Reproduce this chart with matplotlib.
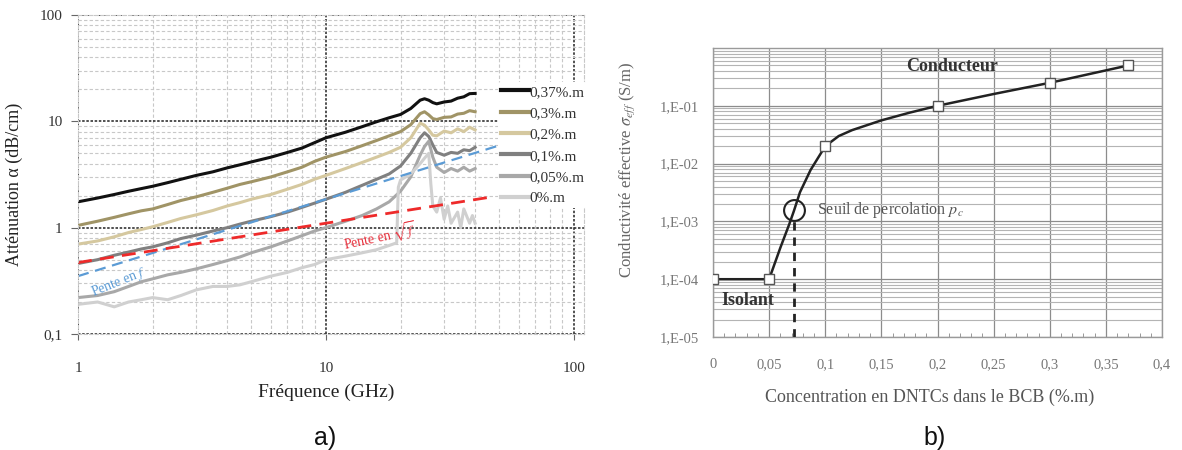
import matplotlib
matplotlib.use("Agg")
import matplotlib.pyplot as plt
import numpy as np
from matplotlib.ticker import FixedLocator, NullFormatter

plt.rcParams['font.family'] = ['Liberation Serif', 'DejaVu Serif']
plt.rcParams['mathtext.fontset'] = 'stix'

# ---- panel a) attenuation vs frequency ----
freq = [1, 1.2, 1.4, 1.6, 1.8, 2, 2.3, 2.6, 3, 3.5, 4, 4.5, 5, 6, 7, 8, 9, 10,
        12, 14, 16, 18, 20, 22, 24, 25, 26, 27, 28, 30, 32, 34, 36, 38, 40]
att_037 = [1.75, 1.9, 2.05, 2.2, 2.33, 2.45, 2.65, 2.85, 3.1, 3.35, 3.65, 3.9, 4.15, 4.6, 5.1,
           5.6, 6.3, 7.0, 7.9, 8.9, 9.9, 10.8, 11.6, 13.2, 15.8, 16.3, 15.8, 15.0, 14.6, 15.2,
           15.5, 16.5, 17.0, 18.2, 18.3]
att_03 = [1.05, 1.15, 1.25, 1.35, 1.44, 1.5, 1.65, 1.8, 1.95, 2.15, 2.35, 2.55, 2.7, 3.0, 3.35,
          3.7, 4.2, 4.6, 5.2, 5.9, 6.6, 7.3, 8.0, 9.3, 11.8, 12.3, 11.5, 10.6, 10.4, 10.9,
          11.0, 11.7, 11.9, 12.6, 12.3]
att_02 = [0.7, 0.75, 0.82, 0.9, 0.96, 1.02, 1.12, 1.22, 1.32, 1.45, 1.6, 1.72, 1.85, 2.05, 2.3,
          2.55, 2.85, 3.1, 3.6, 4.1, 4.6, 5.1, 5.7, 7.0, 9.6, 9.2, 8.3, 7.4, 7.3, 8.1,
          7.8, 8.5, 8.0, 8.8, 8.3]
att_01 = [0.46, 0.5, 0.55, 0.59, 0.63, 0.66, 0.72, 0.79, 0.85, 0.93, 1.0, 1.08, 1.15, 1.27, 1.4,
          1.55, 1.7, 1.85, 2.15, 2.5, 2.85, 3.2, 3.8, 5.0, 7.0, 7.8, 7.2, 6.0, 5.1, 4.8,
          5.1, 5.0, 5.4, 5.3, 5.7]
att_005 = [0.22, 0.23, 0.25, 0.28, 0.31, 0.33, 0.36, 0.38, 0.41, 0.45, 0.49, 0.53, 0.58, 0.66, 0.75,
           0.84, 0.93, 1.0, 1.15, 1.3, 1.5, 1.75, 2.2, 3.0, 4.8, 5.8, 6.5, 4.6, 3.7, 3.3,
           3.6, 3.4, 3.7, 3.4, 3.6]
freq_0 = [1, 1.2, 1.4, 1.6, 1.8, 2, 2.3, 2.6, 3, 3.5, 4, 4.5, 5, 6, 7, 8, 9, 10, 12, 14, 16, 18,
          19.3, 19.6, 20, 22, 24, 25, 26, 26.5, 27, 28, 29, 30, 31, 32, 34, 35, 36, 38, 39, 40]
att_0 = [0.19, 0.2, 0.18, 0.2, 0.21, 0.22, 0.21, 0.23, 0.26, 0.28, 0.28, 0.29, 0.31, 0.35, 0.38,
         0.42, 0.45, 0.5, 0.54, 0.58, 0.62, 0.68, 0.72, 2.4, 2.8, 3.2, 4.0, 4.5, 5.0, 2.6,
         1.6, 1.4, 1.9, 1.2, 1.6, 1.1, 1.4, 1.0, 1.5, 1.1, 1.3, 1.1]
labels_a = ['0,37%.m', '0,3%.m', '0,2%.m', '0,1%.m', '0,05%.m', '0%.m']
colors_a = ['#111111', '#a09466', '#d5c89f', '#808080', '#a8a8a8', '#d0d0d0']

slope_f_x = [1, 52]
slope_f_y = [0.35, 6.1]
slope_sqrt_x = [1, 47]
slope_sqrt_y = [0.47, 1.95]

# ---- panel b) conductivity vs concentration ----
conc = [0, 0.05, 0.1, 0.2, 0.3, 0.37]
sigma = [1e-4, 1e-4, 2e-2, 1e-1, 2.5e-1, 5e-1]
conc_curve = [0, 0.05, 0.06, 0.068, 0.072, 0.0775, 0.087, 0.1, 0.112, 0.124, 0.15, 0.175,
              0.2, 0.25, 0.3, 0.37]
sigma_curve = [1e-4, 1e-4, 3.5e-4, 9e-4, 1.5e-3, 3.2e-3, 7.8e-3, 2e-2, 3e-2, 3.8e-2, 5.6e-2,
               7.6e-2, 1e-1, 1.6e-1, 2.5e-1, 5e-1]
p_c = 0.072
sigma_pc = 1.6e-3

fig = plt.figure(figsize=(11.82, 4.5), dpi=100)

# ================= a) =================
ax = fig.add_axes([0.066, 0.2578, 0.4281, 0.7089])
ax.set_xscale('log')
ax.set_yscale('log')
ax.set_xlim(1, 110)
ax.set_ylim(0.1, 100)

ax.grid(True, which='minor', color='#c8c8c8', linestyle=(0, (3, 2)), linewidth=0.8)
ax.grid(True, which='major', color='#333333', linestyle=(0, (1.5, 1)), linewidth=1.2)
for s in ax.spines.values():
    s.set_color('#c8c8c8')
    s.set_linestyle((0, (3, 2)))
    s.set_linewidth(0.8)
ax.set_axisbelow(True)

ax.set_xticks([1, 10, 100])
ax.set_xticklabels(['1', '10', '100'])
ax.set_yticks([0.1, 1, 10, 100])
ax.set_yticklabels(['0,1', '1', '10', '100'])
ax.xaxis.set_minor_formatter(NullFormatter())
ax.yaxis.set_minor_formatter(NullFormatter())
ax.tick_params(which='minor', length=0)
ax.tick_params(axis='y', which='major', length=5, color='#666666', labelsize=11, pad=6,
               labelcolor='#333333')
ax.tick_params(axis='x', which='major', length=4, color='#666666', labelsize=11, pad=16,
               labelcolor='#333333')

series = [att_037, att_03, att_02, att_01, att_005]
for vals, lab, col in zip(series, labels_a, colors_a):
    ax.plot(freq, vals, color=col, linewidth=2.2, label=lab)
ax.plot(freq_0, att_0, color=colors_a[5], linewidth=2.2, label=labels_a[5])

ax.plot(slope_f_x, slope_f_y, color='#5b9bd5', linestyle=(0, (5, 3)), linewidth=1.6)
ax.plot(slope_sqrt_x, slope_sqrt_y, color='#ee2a2a', linestyle=(0, (5, 3)), linewidth=2.0)
ax.text(1.46, 0.31, 'Pente en $f$', color='#5b9bd5', fontsize=10, rotation=22,
        ha='center', va='center')
ax.text(16.5, 0.8, r'Pente en $\sqrt{f}$', color='#e8303c', fontsize=10, rotation=12,
        ha='center', va='center')

leg = ax.legend(loc='upper left', bbox_to_anchor=(0.83, 0.79), frameon=True, fontsize=11,
                handlelength=1.8, handletextpad=0.05, labelspacing=0.5, borderpad=0.2,
                borderaxespad=0)
leg.get_frame().set_facecolor('white')
leg.get_frame().set_edgecolor('none')
leg.get_frame().set_alpha(1)
for line in leg.get_lines():
    line.set_linewidth(3)
for t in leg.get_texts():
    t.set_color('#333333')

ax.set_xlabel('Fréquence (GHz)', fontsize=14, color='#222222')
ax.xaxis.set_label_coords(0.49, -0.155)
ax.set_ylabel('Atténuation α (dB/cm)', fontsize=13, color='#222222')
ax.yaxis.set_label_coords(-0.108, 0.47)

# ================= b) =================
bx = fig.add_axes([0.6032, 0.2511, 0.3799, 0.6422])
bx.set_yscale('log')
bx.set_xlim(0, 0.4)
bx.set_ylim(1e-5, 1)

bx.set_xticks([0, 0.05, 0.1, 0.15, 0.2, 0.25, 0.3, 0.35, 0.4])
bx.set_xticklabels(['0', '0,05', '0,1', '0,15', '0,2', '0,25', '0,3', '0,35', '0,4'])
bx.xaxis.set_minor_locator(FixedLocator([i * 0.01 for i in range(41)]))
bx.set_yticks([1e-5, 1e-4, 1e-3, 1e-2, 1e-1])
bx.set_yticklabels(['1,E-05', '1,E-04', '1,E-03', '1,E-02', '1,E-01'])
bx.yaxis.set_minor_formatter(NullFormatter())
bx.grid(True, axis='x', which='major', color='#8c8c8c', linewidth=0.9)
bx.grid(True, axis='y', which='major', color='#8c8c8c', linewidth=0.9)
bx.grid(True, axis='y', which='minor', color='#b4b4b4', linewidth=0.8)
bx.set_axisbelow(True)
for s in bx.spines.values():
    s.set_color('#9a9a9a')
    s.set_linewidth(1)
bx.tick_params(axis='x', which='minor', direction='in', length=3, color='#888888', top=False)
bx.tick_params(axis='y', which='minor', length=0)
bx.tick_params(axis='x', which='major', length=0, labelsize=10.5, pad=15, labelcolor='#777777')
bx.tick_params(axis='y', which='major', length=0, labelsize=10.5, pad=10, labelcolor='#777777')

bx.plot(conc_curve, sigma_curve, color='#222222', linewidth=1.8, zorder=3)
bx.plot(conc, sigma, linestyle='none', marker='s', markersize=7, markerfacecolor='white',
        markeredgecolor='#555555', markeredgewidth=1, zorder=4)
bx.plot([p_c, p_c], [1e-5, 1.2e-3], color='#222222', linestyle=(0, (3, 2.5)), linewidth=2,
        zorder=3)
bx.plot([p_c], [sigma_pc], linestyle='none', marker='o', markersize=15,
        markerfacecolor='none', markeredgecolor='#222222', markeredgewidth=1.5, zorder=5)

bx.text(0.213, 0.47, 'Conducteur', fontsize=13, fontweight='bold', color='#333333',
        ha='center', va='center')
bx.text(0.031, 4.2e-5, 'Isolant', fontsize=13, fontweight='bold', color='#333333',
        ha='center', va='center')
bx.text(0.093, 1.6e-3, 'Seuil de percolation $p_c$', fontsize=11.5, color='#555555',
        ha='left', va='center')

bx.set_xlabel('Concentration en DNTCs dans le BCB (%.m)', fontsize=13, color='#555555')
bx.xaxis.set_label_coords(0.483, -0.18)
bx.set_ylabel(r'Conductivité effective $\sigma_{eff}$ (S/m)', fontsize=12, color='#666666')
bx.yaxis.set_label_coords(-0.17, 0.58)

fig.text(325 / 1182, 1 - 438 / 450, 'a)', fontsize=18, family='Liberation Sans',
         ha='center', va='center', color='#111111')
fig.text(935 / 1182, 1 - 438 / 450, 'b)', fontsize=18, family='Liberation Sans',
         ha='center', va='center', color='#111111')

fig.savefig('out.png', dpi=100)
